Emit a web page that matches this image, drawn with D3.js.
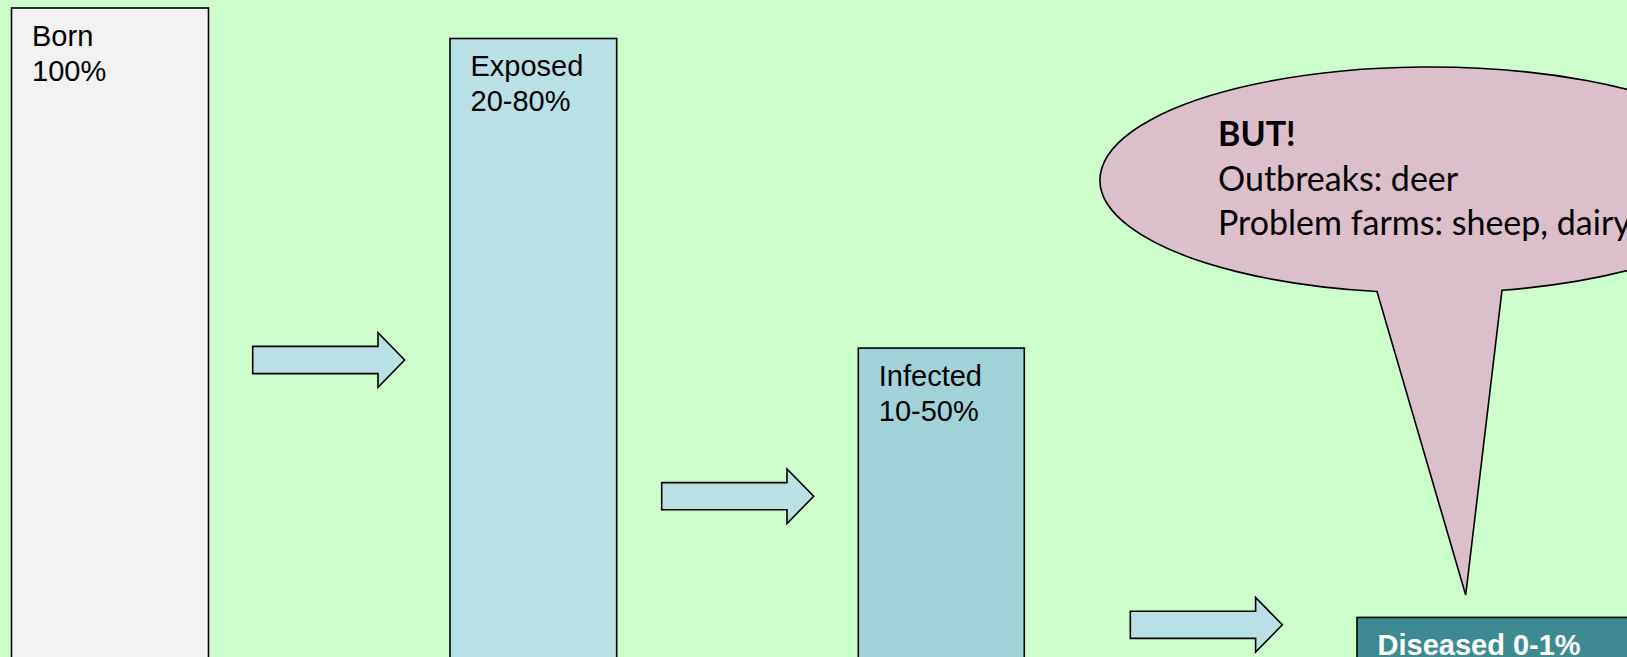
<!DOCTYPE html>
<html>
<head>
<meta charset="utf-8">
<script src="https://cdn.jsdelivr.net/npm/d3@7"></script>
<style>
  html, body { margin: 0; padding: 0; background: #CCFFCC; overflow: hidden; }
  svg { display: block; }
</style>
</head>
<body>
<div id="chart"></div>
<script>
// Stages of infection, from birth to clinical disease
const stageNames  = ["Born", "Exposed", "Infected", "Diseased"];
const stageRanges = ["100%", "20-80%", "10-50%", "0-1%"];
// Schematic bar height of each stage on a 0-100 scale
const stageLevels = [100, 95.3, 47.6, 6.1];

// Callout text
const calloutLines = ["BUT!", "Outbreaks: deer", "Problem farms: sheep, dairy"];

const W = 1627, H = 657;

const svg = d3.select("#chart").append("svg")
  .attr("width", W).attr("height", H);

svg.append("rect").attr("width", W).attr("height", H).attr("fill", "#CCFFCC");

// Vertical scale for the bar tops
const y = d3.scaleLinear().domain([0, 100]).range([H, 8]);

// Column layout (left edge and width of each stage box)
const colX = d3.scaleOrdinal().domain(stageNames).range([11.5, 450, 858.3, 1357]);
const colW = d3.scaleOrdinal().domain(stageNames).range([197, 166.7, 166, 300]);
const fills = d3.scaleOrdinal().domain(stageNames)
  .range(["#F2F2F2", "#B9E0E4", "#9FD3D8", "#3D8B91"]);

const stages = stageNames.map((name, i) => ({
  name, range: stageRanges[i], level: stageLevels[i]
}));

const g = svg.append("g");

g.selectAll("rect.stage")
  .data(stages)
  .join("rect")
  .attr("class", "stage")
  .attr("x", d => colX(d.name))
  .attr("y", d => y(d.level))
  .attr("width", d => colW(d.name))
  .attr("height", d => y(0) - y(d.level) + 10)
  .attr("fill", d => fills(d.name))
  .attr("stroke", "#000")
  .attr("stroke-width", 1.6);

// Stage labels: name and range on two lines, last stage on one bold line
stages.forEach((d, i) => {
  const last = i === stages.length - 1;
  const lx = colX(d.name) + 20.5;
  const t = g.append("text")
    .attr("x", lx)
    .attr("y", y(d.level) + 37.5)
    .attr("font-family", "Arial, 'Liberation Sans', sans-serif")
    .attr("font-size", 29)
    .attr("font-weight", last ? "bold" : "normal")
    .attr("fill", last ? "#FFFFFF" : "#000000");
  if (last) {
    t.text(`${d.name} ${d.range}`);
  } else {
    t.append("tspan").attr("x", lx).text(d.name);
    t.append("tspan").attr("x", lx).attr("dy", 35).text(d.range);
  }
});

// Block arrows between stages
const arrowAnchors = [
  { x: 252.7, y: 360 },
  { x: 661.7, y: 496.2 },
  { x: 1130.3, y: 624.8 }
];
const arrowLen = 152, shaftHalf = 13.6, headHalf = 27.3, headLen = 26.7;
const arrowLine = d3.line();
g.selectAll("path.arrow")
  .data(arrowAnchors)
  .join("path")
  .attr("class", "arrow")
  .attr("d", a => {
    const hx = a.x + arrowLen - headLen;
    return arrowLine([
      [a.x, a.y - shaftHalf],
      [hx, a.y - shaftHalf],
      [hx, a.y - headHalf],
      [a.x + arrowLen, a.y],
      [hx, a.y + headHalf],
      [hx, a.y + shaftHalf],
      [a.x, a.y + shaftHalf]
    ]) + "Z";
  })
  .attr("fill", "#B9E0E4")
  .attr("stroke", "#000")
  .attr("stroke-width", 1.6)
  .attr("stroke-linejoin", "miter");

// Speech-bubble callout pointing to the diseased stage
const ell = { cx: 1430, cy: 180, rx: 330, ry: 113 };
const tip = [1465.7, 595];
const baseXs = [1377, 1502];
const onEllipseBottom = x => ell.cy + ell.ry * Math.sqrt(1 - Math.pow((x - ell.cx) / ell.rx, 2));
const bL = [baseXs[0], onEllipseBottom(baseXs[0])];
const bR = [baseXs[1], onEllipseBottom(baseXs[1])];
const bubbleD = `M${bR[0]},${bR[1]} A${ell.rx},${ell.ry} 0 1 0 ${bL[0]},${bL[1]} L${tip[0]},${tip[1]} Z`;

g.append("path")
  .attr("d", bubbleD)
  .attr("fill", "#DBBFCB")
  .attr("stroke", "#000")
  .attr("stroke-width", 1.6)
  .attr("stroke-linejoin", "miter");

const ct = g.append("text")
  .attr("font-family", "Lato, 'Open Sans', sans-serif")
  .attr("font-size", 34)
  .attr("fill", "#000");
calloutLines.forEach((line, i) => {
  ct.append("tspan")
    .attr("x", 1218)
    .attr("y", 146 + i * 44.5)
    .attr("font-weight", i === 0 ? "bold" : "normal")
    .text(line);
});
</script>
</body>
</html>
